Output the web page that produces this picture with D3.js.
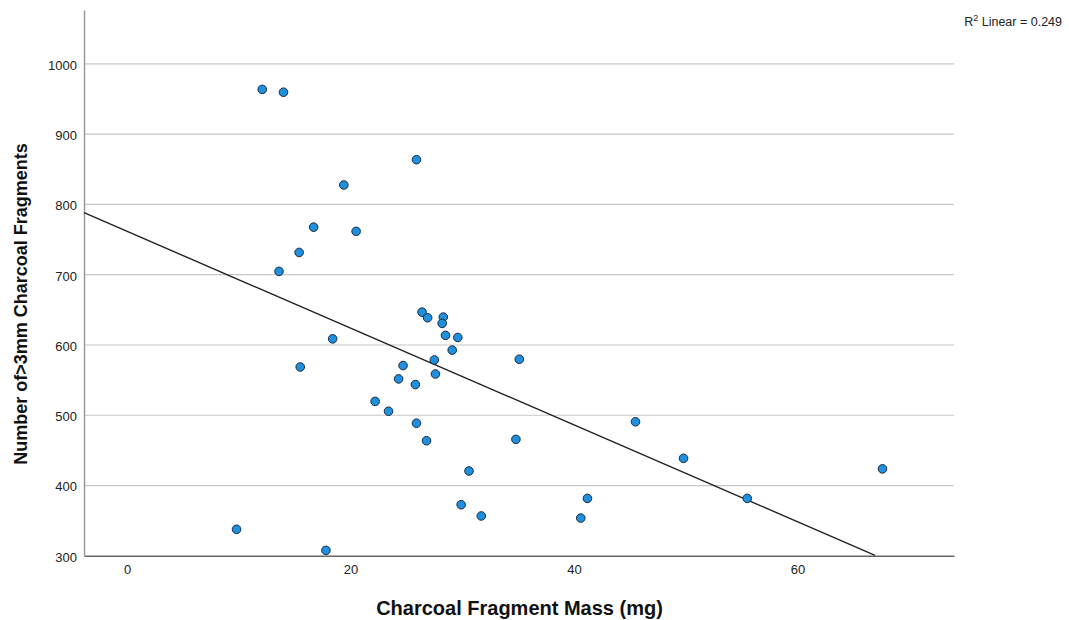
<!DOCTYPE html>
<html>
<head>
<meta charset="utf-8">
<script src="https://cdn.jsdelivr.net/npm/d3@7"></script>
<style>
  body { margin: 0; background: #fff; }
  svg { font-family: "Liberation Sans", Arial, sans-serif; }
</style>
</head>
<body>
<div id="chart"></div>
<script>
// charcoal fragment mass (mg) vs number of >3mm fragments
const mass = [9.8, 17.8, 12.1, 14.0, 19.4, 16.7, 20.5, 15.4, 13.6, 25.9,
  18.4, 15.5, 26.4, 26.9, 28.3, 28.2, 28.5, 29.6, 29.1, 27.5,
  35.1, 24.7, 24.3, 27.6, 25.8, 22.2, 23.4, 25.9, 26.8, 34.8,
  30.6, 29.9, 31.7, 40.6, 41.2, 45.5, 49.8, 55.5, 67.6]
const fragments = [337, 307, 963, 959, 827, 767, 761, 731, 704, 863,
  608, 568, 646, 638, 639, 630, 613, 610, 592, 578,
  579, 570, 551, 558, 543, 519, 505, 488, 463, 465,
  420, 372, 356, 353, 381, 490, 438, 381, 423]
const xTicks = [0, 20, 40, 60]
const yTicks = [300, 400, 500, 600, 700, 800, 900, 1000]
const r2Label = 'Linear = 0.249'

const width = 1069, height = 620
const margin = {top: 10, right: 115, bottom: 64, left: 84}

const svg = d3.select('#chart').append('svg')
    .attr('width', width)
    .attr('height', height)

const x = d3.scaleLinear()
    .domain([-3.85, 74])
    .range([margin.left, width - margin.right])

const y = d3.scaleLinear()
    .domain([300, 1076])
    .range([height - margin.bottom - 0.7, margin.top])

// gridlines
svg.append('g')
    .selectAll('line')
    .data(yTicks.filter(t => t > 300))
    .enter()
    .append('line')
    .attr('x1', x.range()[0])
    .attr('x2', x.range()[1])
    .attr('y1', d => y(d) + 0.5)
    .attr('y2', d => y(d) + 0.5)
    .attr('stroke', '#c8c8c8')
    .attr('stroke-width', 1.2)

// y axis
const yAxis = svg.append('g')
    .attr('transform', `translate(${margin.left},0)`)
    .call(d3.axisLeft(y).tickValues(yTicks).tickFormat(d3.format('d')).tickSize(0).tickPadding(7))
yAxis.select('.domain').attr('stroke', '#9a9a9a').attr('stroke-width', 1.5)
yAxis.selectAll('text').attr('font-size', 13).attr('fill', '#222').attr('dy', '0.45em')

// x axis
const xAxis = svg.append('g')
    .attr('transform', `translate(0,${y(300) + 0.5})`)
    .call(d3.axisBottom(x).tickValues(xTicks).tickSize(0).tickPadding(9))
xAxis.select('.domain').attr('stroke', '#666').attr('stroke-width', 1.5)
xAxis.selectAll('text').attr('font-size', 13).attr('fill', '#222')

// least squares fit
const mx = d3.mean(mass), my = d3.mean(fragments)
const sxy = d3.sum(mass, (v, i) => (v - mx) * (fragments[i] - my))
const sxx = d3.sum(mass, v => (v - mx) * (v - mx))
const slope = sxy / sxx
const intercept = my - slope * mx
const x0 = x.domain()[0]
const xEnd = Math.min(x.domain()[1], (y.domain()[0] - intercept) / slope)

svg.append('line')
    .attr('x1', x(x0))
    .attr('y1', y(intercept + slope * x0))
    .attr('x2', x(xEnd))
    .attr('y2', y(intercept + slope * xEnd))
    .attr('stroke', '#222')
    .attr('stroke-width', 1.4)

// points
svg.append('g')
    .selectAll('circle')
    .data(mass.map((m, i) => ({m: m, f: fragments[i]})))
    .enter()
    .append('circle')
    .attr('cx', d => x(d.m))
    .attr('cy', d => y(d.f))
    .attr('r', 4.3)
    .attr('fill', '#1f8fe0')
    .attr('stroke', '#1a2a3a')
    .attr('stroke-width', 1)

// R2 label
const r2 = svg.append('text')
    .attr('x', 1062)
    .attr('y', 26)
    .attr('text-anchor', 'end')
    .attr('font-size', 12.5)
    .attr('fill', '#222')
r2.append('tspan').text('R')
r2.append('tspan').text('2').attr('font-size', 9).attr('dy', -5)
r2.append('tspan').text(' ' + r2Label).attr('dy', 5)

// axis titles
svg.append('text')
    .attr('x', 519.5)
    .attr('y', 615)
    .attr('text-anchor', 'middle')
    .attr('font-size', 20)
    .attr('font-weight', 'bold')
    .attr('fill', '#111')
    .text('Charcoal Fragment Mass (mg)')

svg.append('text')
    .attr('transform', 'translate(26.5,304) rotate(-90)')
    .attr('text-anchor', 'middle')
    .attr('font-size', 18)
    .attr('font-weight', 'bold')
    .attr('fill', '#111')
    .text('Number of>3mm Charcoal Fragments')
</script>
</body>
</html>
